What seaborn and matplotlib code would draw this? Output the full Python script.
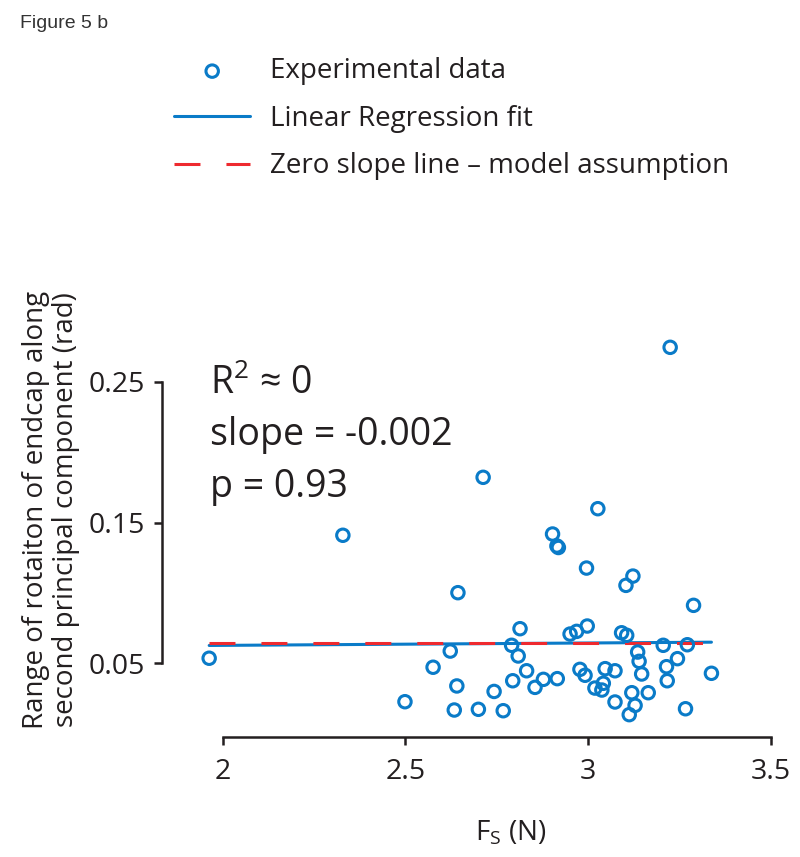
import numpy as np
import pandas as pd
import matplotlib
matplotlib.use("Agg")
import matplotlib.pyplot as plt
import seaborn as sns

# values (F_s in N, rotation range in rad)
force = [1.963, 2.329, 2.499, 2.576, 2.623, 2.641, 2.634, 2.644, 2.700, 2.713,
         2.743, 2.768, 2.791, 2.794, 2.809, 2.814, 2.832, 2.855, 2.878, 2.903,
         2.915, 2.919, 2.916, 2.951, 2.969, 2.978, 2.992, 2.996, 2.998, 3.019,
         3.027, 3.038, 3.042, 3.047, 3.074, 3.074, 3.092, 3.104, 3.106, 3.113,
         3.120, 3.123, 3.129, 3.136, 3.140, 3.147, 3.165, 3.206, 3.215, 3.217,
         3.225, 3.245, 3.267, 3.272, 3.289, 3.338]
rotation = [0.0536, 0.141, 0.0227, 0.0472, 0.0587, 0.0339, 0.0168, 0.1002, 0.0173, 0.1822,
            0.030, 0.0163, 0.0628, 0.0376, 0.0552, 0.0746, 0.0447, 0.0329, 0.0386, 0.1419,
            0.1334, 0.1323, 0.0391, 0.0708, 0.0727, 0.0457, 0.0415, 0.1177, 0.0765, 0.0324,
            0.1599, 0.031, 0.0358, 0.0462, 0.0447, 0.0225, 0.0717, 0.1054, 0.0699, 0.0135,
            0.0291, 0.112, 0.0201, 0.058, 0.0514, 0.0424, 0.0291, 0.0628, 0.0476, 0.0376,
            0.2746, 0.0533, 0.0177, 0.0632, 0.0912, 0.0429]

x_ticks = [2, 2.5, 3, 3.5]
x_ticklabels = ["2", "2.5", "3", "3.5"]
y_ticks = [0.05, 0.15, 0.25]
y_ticklabels = ["0.05", "0.15", "0.25"]

stats_lines = [r"R$^\mathregular{2}$ ≈ 0", "slope = -0.002", "p = 0.93"]

df = pd.DataFrame({"force": force, "rotation": rotation})

blue = "#0a7bc8"
red = "#ee2a2f"
ink = "#231f20"

sns.set_style("white")
plt.rcParams["font.family"] = ["Open Sans", "DejaVu Sans"]
plt.rcParams["mathtext.fontset"] = "custom"
plt.rcParams["mathtext.rm"] = "Open Sans"
plt.rcParams["text.color"] = ink
plt.rcParams["axes.labelcolor"] = ink
plt.rcParams["xtick.color"] = ink
plt.rcParams["ytick.color"] = ink

fig = plt.figure(figsize=(8, 8.57), dpi=100)
ax = fig.add_axes([0.2021, 0.1395, 0.784, 0.4723])

sns.scatterplot(data=df, x="force", y="rotation", ax=ax, s=80, marker="o",
                facecolor="none", edgecolor=blue, linewidth=2.2,
                label="Experimental data", zorder=3)
sns.regplot(data=df, x="force", y="rotation", ax=ax, scatter=False, ci=None,
            truncate=True, color=blue, line_kws={"lw": 2.2, "zorder": 2},
            label="Linear Regression fit")
# zero slope line at the mean
mean_rot = df["rotation"].mean()
ax.plot([df["force"].min(), df["force"].max()], [mean_rot, mean_rot],
        color=red, lw=2.2, dashes=(8.5, 8.5), zorder=2.5,
        label="Zero slope line – model assumption")

ax.set_xlim(1.833, 3.55)
ax.set_ylim(-0.0027, 0.285)
ax.set_xticks(x_ticks)
ax.set_xticklabels(x_ticklabels)
ax.set_yticks(y_ticks)
ax.set_yticklabels(y_ticklabels)
ax.tick_params(axis="both", labelsize=20.5, length=6, width=1.8, direction="out",
               bottom=True, left=True)
ax.tick_params(axis="x", pad=9)
ax.tick_params(axis="y", pad=6)

for side in ["top", "right"]:
    ax.spines[side].set_visible(False)
ax.spines["left"].set_bounds(0.05, 0.25)
ax.spines["bottom"].set_bounds(2, 3.5)
for side in ["left", "bottom"]:
    ax.spines[side].set_linewidth(1.8)
    ax.spines[side].set_color(ink)

ax.set_xlabel(r"F$_\mathregular{S}$ (N)", fontsize=20)
ax.xaxis.set_label_coords(0.557, -0.2)
ax.set_ylabel("Range of rotaiton of endcap along\nsecond principal component (rad)",
              fontsize=20, linespacing=1.1)
ax.yaxis.set_label_coords(-0.13, 0.562)

for ypos, line in zip([0.8486, 0.7226, 0.594], stats_lines):
    ax.text(0.077, ypos, line, transform=ax.transAxes, fontsize=27,
            va="baseline", ha="left")

handles, labels = ax.get_legend_handles_labels()
leg = ax.legend(handles, labels, loc="upper left", bbox_to_anchor=(0.2175, 0.933),
                bbox_transform=fig.transFigure, frameon=False, fontsize=20,
                handlelength=2.75, handletextpad=0.7, labelspacing=0.7,
                borderpad=0, borderaxespad=0)

fig.text(0.025, 0.972, "Figure 5 b", fontsize=14, family="Liberation Sans",
         va="center", ha="left", color="#333333")

fig.savefig("out.png", dpi=100)
